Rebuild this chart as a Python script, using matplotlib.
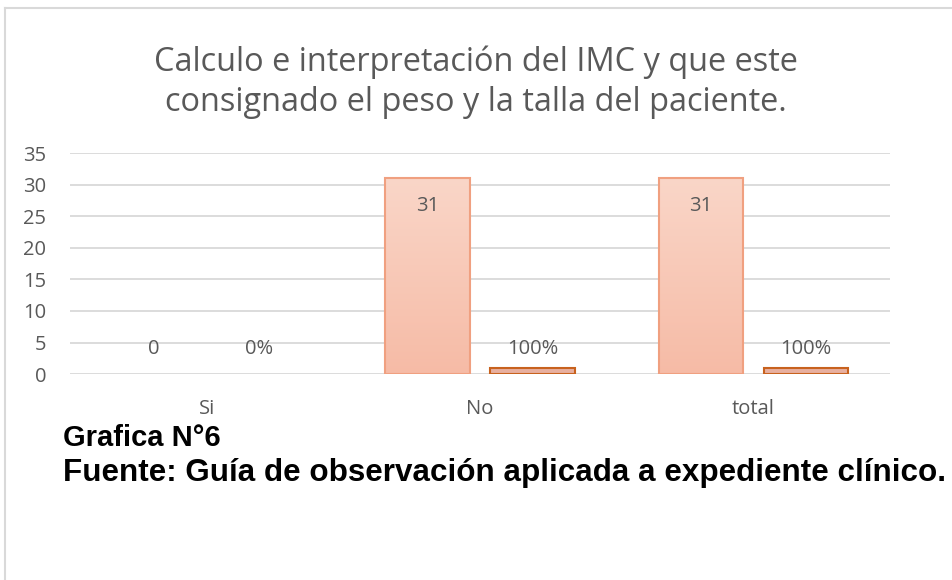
import matplotlib.pyplot as plt
import numpy as np
from matplotlib.lines import Line2D
from matplotlib.colors import LinearSegmentedColormap

categories = ['Si', 'No', 'total']
counts = [0, 31, 31]
percents = [0, 1, 1]
count_labels = ['0', '31', '31']
percent_labels = ['0%', '100%', '100%']
y_ticks = [0, 5, 10, 15, 20, 25, 30, 35]

title = 'Calculo e interpretación del IMC y que este\nconsignado el peso y la talla del paciente.'
caption_num = 'Grafica N°6'
caption_src = 'Fuente: Guía de observación aplicada a expediente clínico.'

gray = '#595959'
grid_color = '#D9D9D9'

fig = plt.figure(figsize=(9.52, 5.8), dpi=100)
ax = fig.add_axes([0.0735, 0.355, 0.8615, 0.381])

x = np.arange(len(categories))
width = 0.31
offset = 0.192

bars1 = ax.bar(x - offset, counts, width, color='#F8C8B5',
               edgecolor='#F0A080', linewidth=1.5, zorder=3)
bars2 = ax.bar(x + offset, percents, width, color='#E8B0A0',
               edgecolor='#C8621E', linewidth=1.5, zorder=3)

# vertical gradient on the first series, clipped to each bar
grad = np.linspace(0, 1, 256).reshape(-1, 1)
cmap1 = LinearSegmentedColormap.from_list('peach', ['#F6BBA6', '#FAD6C8'])
for b in bars1:
    if b.get_height() <= 0:
        continue
    x0, y0 = b.get_x(), b.get_y()
    im = ax.imshow(grad, cmap=cmap1, aspect='auto', origin='lower',
                   extent=[x0, x0 + b.get_width(), y0, y0 + b.get_height()],
                   zorder=3.5)
    im.set_clip_path(b)
    b.set_facecolor('none')
    b.set_zorder(4)

# zero-height bars are not drawn in the original
for b in list(bars1) + list(bars2):
    if b.get_height() <= 0:
        b.set_visible(False)

# data labels
for i, b in enumerate(bars1):
    y = counts[i] - 4.4 if counts[i] > 2 else 4.0
    ax.text(b.get_x() + b.get_width() / 2, y, count_labels[i],
            ha='center', va='center', fontsize=14.5, color=gray, zorder=5,
            family='Open Sans')
for i, b in enumerate(bars2):
    ax.text(b.get_x() + b.get_width() / 2, 4.0, percent_labels[i],
            ha='center', va='center', fontsize=14.5, color=gray, zorder=5,
            family='Open Sans')

ax.set_xlim(-0.5, 2.5)
ax.set_ylim(0, 35)
ax.set_yticks(y_ticks)
ax.set_xticks(x)
ax.set_xticklabels(categories)
ax.yaxis.grid(True, color=grid_color, linewidth=1.3, zorder=0)
ax.set_axisbelow(True)
for s in ax.spines.values():
    s.set_visible(False)
ax.tick_params(axis='both', length=0, labelsize=14.5, colors=gray)
ax.tick_params(axis='y', pad=17)
ax.tick_params(axis='x', pad=18)
for lbl in ax.get_xticklabels() + ax.get_yticklabels():
    lbl.set_fontfamily('Open Sans')

fig.text(0.5, 0.858, title, ha='center', va='center', fontsize=23.4,
         color=gray, family='Open Sans', linespacing=1.3)

fig.text(0.066, 1 - 438 / 580, caption_num, ha='left', va='center',
         fontsize=21, fontweight='bold', color='black',
         family='Liberation Sans')
fig.text(0.066, 1 - 473 / 580, caption_src, ha='left', va='center',
         fontsize=22.6, fontweight='bold', color='black',
         family='Liberation Sans')

# chart area border (top and left visible)
fig.add_artist(Line2D([5 / 952, 1], [1 - 8 / 580, 1 - 8 / 580],
                      transform=fig.transFigure, color=grid_color, lw=1.5))
fig.add_artist(Line2D([5 / 952, 5 / 952], [0, 1 - 8 / 580],
                      transform=fig.transFigure, color=grid_color, lw=1.5))

fig.savefig('out.png', dpi=100)
